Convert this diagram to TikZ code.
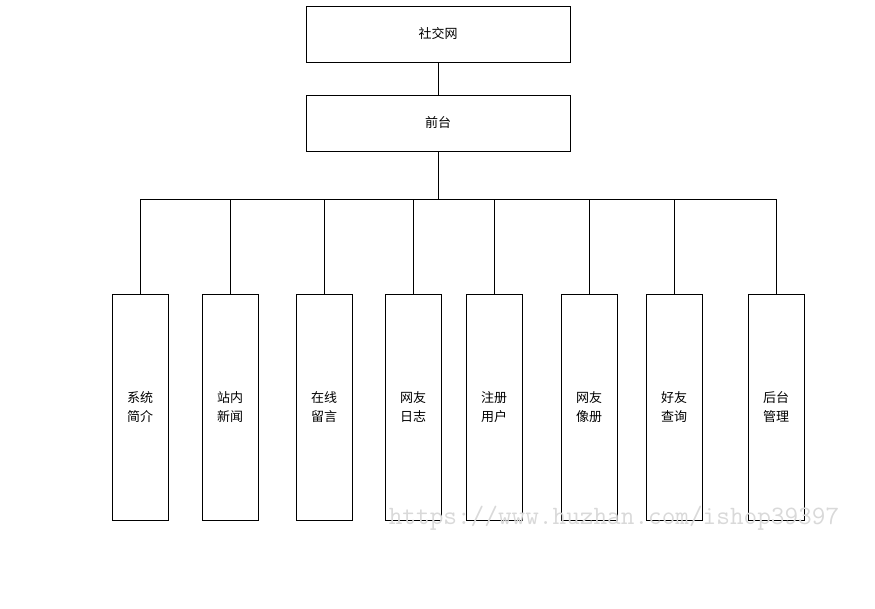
\documentclass[tikz,border=0pt]{standalone}
\usepackage{fontspec}
\newfontfamily\cjk{Noto Sans CJK SC}
\begin{document}
\begin{tikzpicture}[x=1pt,y=-1pt,
  box/.style={draw,thick,minimum width=264pt,minimum height=56pt,font=\cjk\fontsize{13}{15}\selectfont,inner sep=0},
  leaf/.style={draw,thick,minimum width=56pt,minimum height=226pt,font=\cjk\fontsize{13}{19}\selectfont,align=center,inner sep=0},
  line/.style={thick}]
\useasboundingbox (0,0) rectangle (875,608);
\node[box] (a) at (438,34) {社交网};
\node[box] (b) at (438,123) {前台};
\coordinate (j) at (438,199);
\foreach \n/\x/\t in {1/140/{系统\\简介},2/230/{站内\\新闻},3/324/{在线\\留言},4/413/{网友\\日志},5/494/{注册\\用户},6/589/{网友\\像册},7/674/{好友\\查询},8/776/{后台\\管理}}{
  \node[leaf] (l\n) at (\x,407) {\t};
  \coordinate (t\n) at (\x,199);
  \draw[line] (l\n.north) -- (t\n);
}
\draw[line] (a) -- (b);
\draw[line] (b) -- (j);
\draw[line] (t1) -- (t8);
\node[text=black!15,font=\ttfamily\fontsize{26.5}{26.5}\selectfont,inner sep=0] (w) at (614,518) {https://www.huzhan.com/ishop39397};
\end{tikzpicture}
\end{document}
